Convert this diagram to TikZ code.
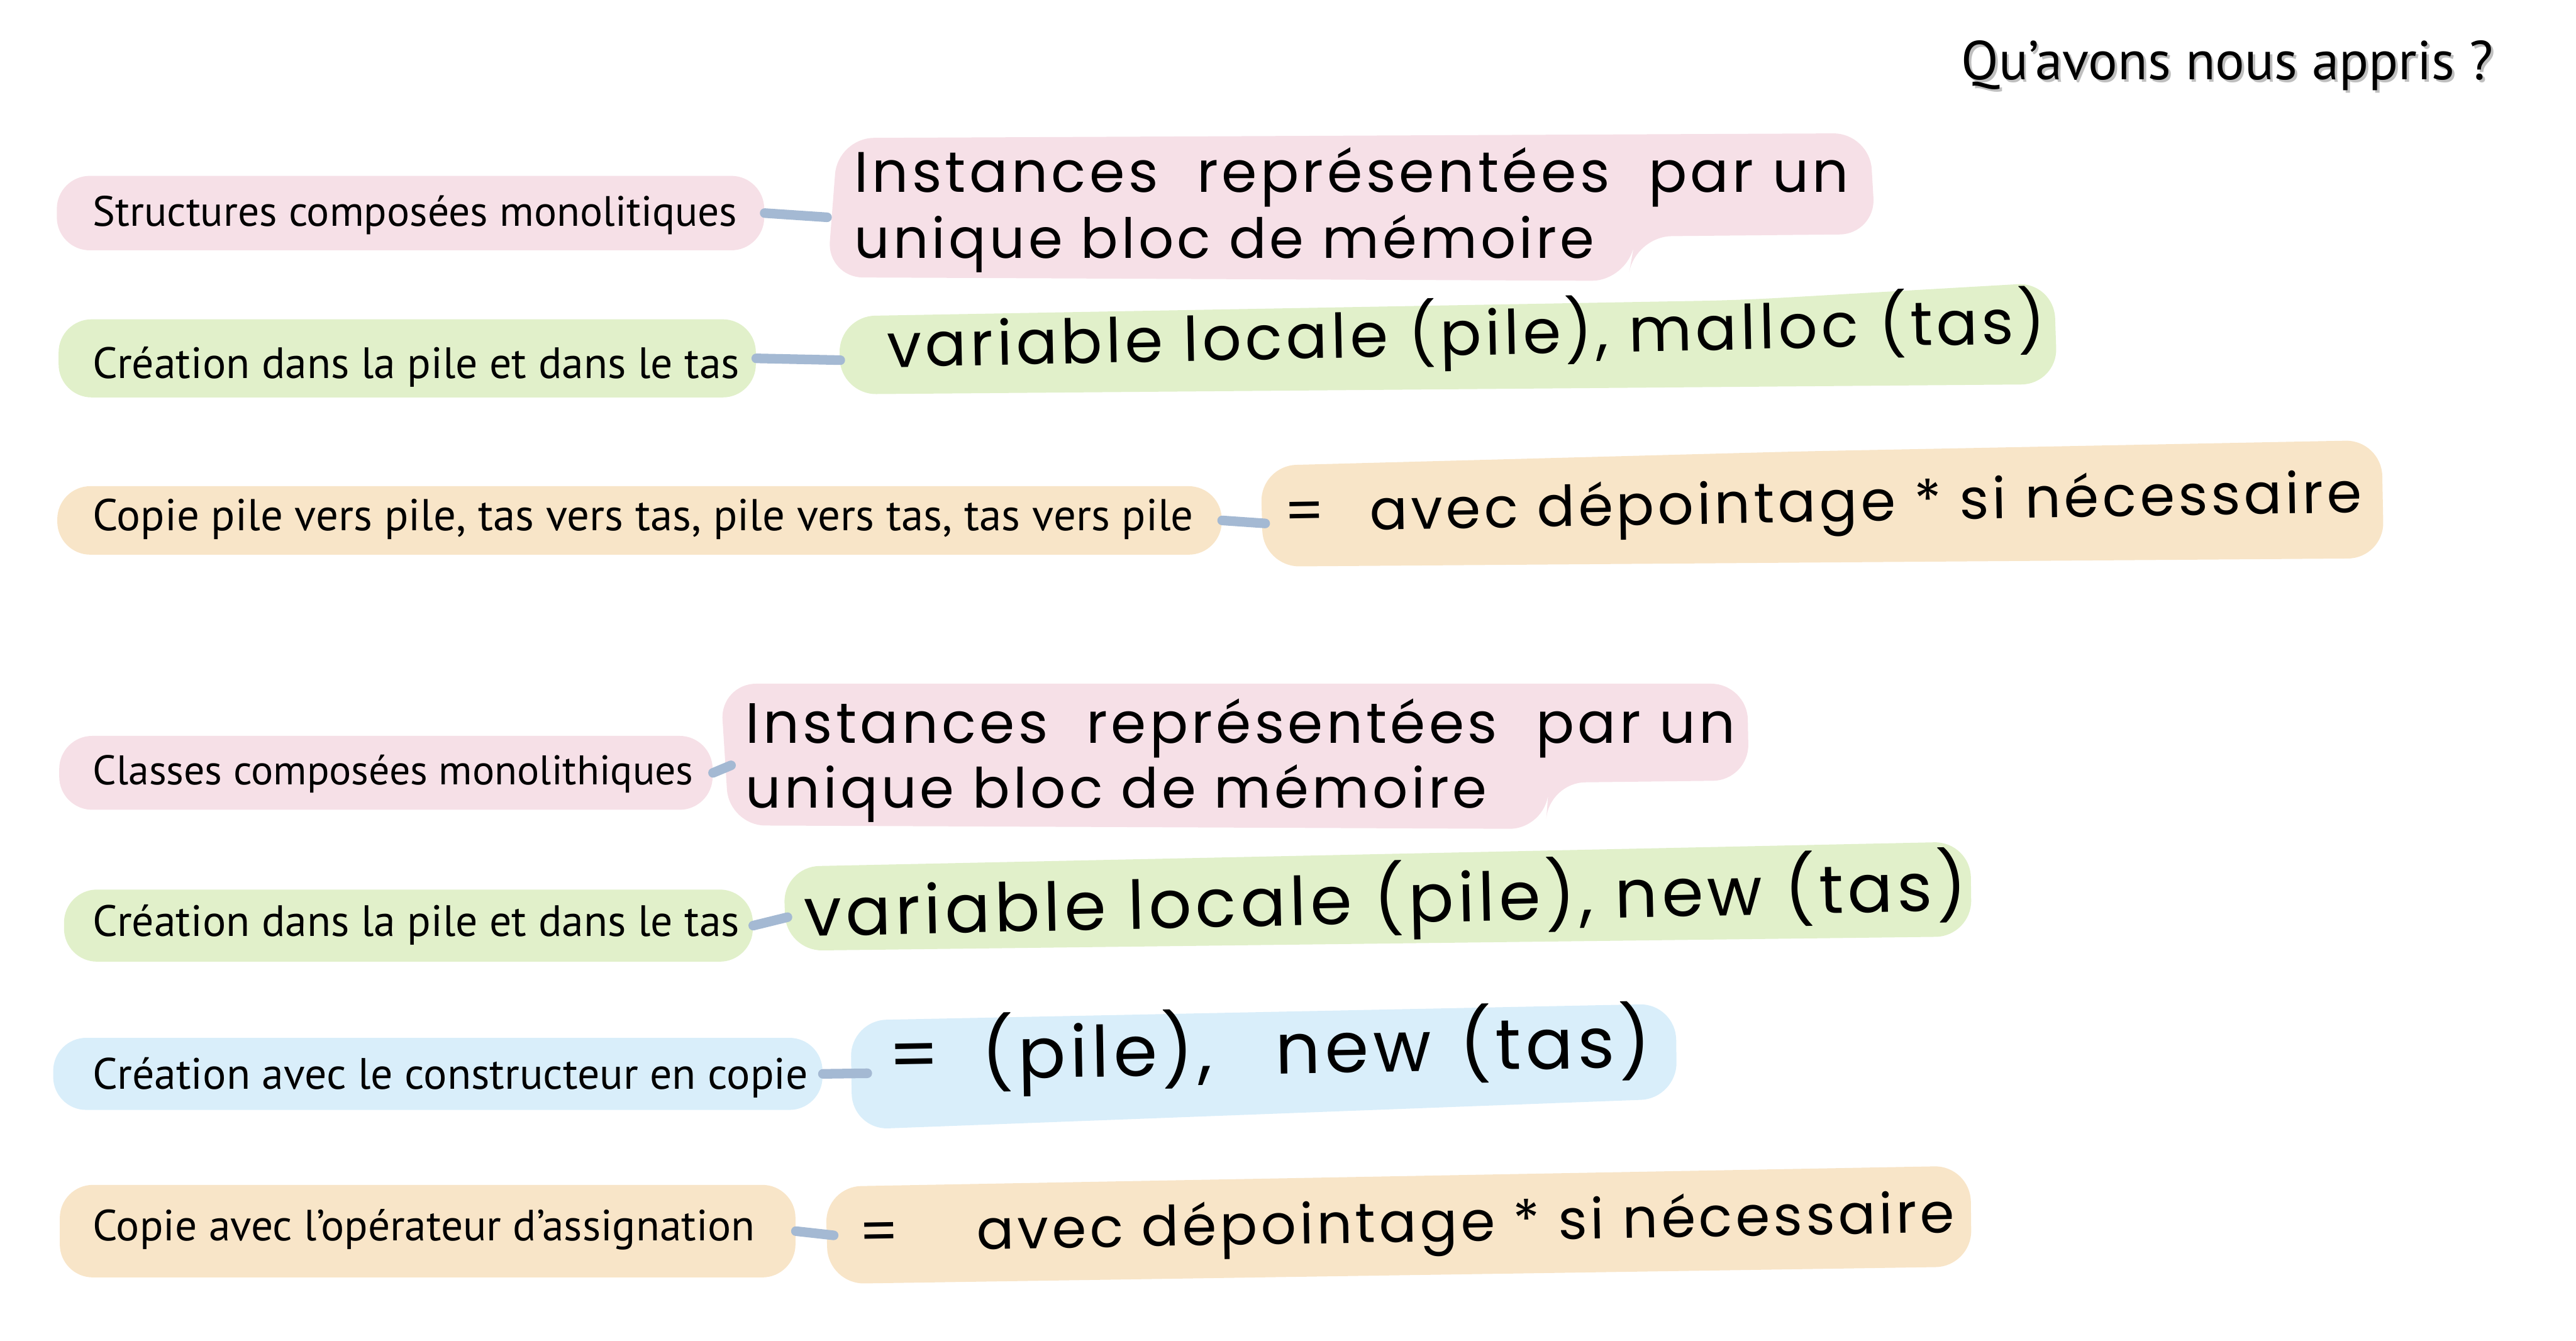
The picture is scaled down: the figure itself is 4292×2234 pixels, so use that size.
\documentclass[tikz,border=0pt]{standalone}
\usepackage{fontspec}
\setmainfont{PT Sans}
\newfontfamily\handfont[LetterSpace=6]{Poppins}
\usepackage{graphicx}
\definecolor{cpink}{HTML}{F6E0E7}
\definecolor{cgreen}{HTML}{E1F0CA}
\definecolor{corange}{HTML}{F8E5C8}
\definecolor{cblue}{HTML}{D9EEFA}
\definecolor{cconn}{HTML}{A4B9D3}
\newcommand{\fitw}[2]{\resizebox{#1}{!}{#2}}
\begin{document}
\begin{tikzpicture}[x=0.01cm,y=-0.01cm,
  lbox/.style={rounded corners=0.55cm, inner sep=0pt},
  lab/.style={anchor=base west, inner sep=0pt},
  hw/.style={anchor=base west, inner sep=0pt, font=\handfont},
  conn/.style={draw=cconn, line width=0.16cm, line cap=round},
  blob/.style={rounded corners=0.6cm}]
\useasboundingbox (0,0) rectangle (4292,2234);

% title
\node[lab, text=black!25] at (3271,137) {\fitw{8.86cm}{Qu’avons nous appris ?}};
\node[lab] (title) at (3267,133) {\fitw{8.86cm}{Qu’avons nous appris ?}};

% right blobs
\fill[cpink, blob] (1396,230) -- (3115,222) -- (3125,390) -- (2725,394) -- (2712,468) -- (1378,462) -- cycle;
\fill[cgreen, blob] (1398,527) -- (2900,500) -- (3422,470) -- (3428,640) -- (1400,657) -- cycle;
\fill[corange, blob] (2100,776) -- (3000,752) -- (3968,733) -- (3972,930) -- (2105,944) -- cycle;
\fill[cpink, blob] (1200,1139) -- (2911,1139) -- (2914,1300) -- (2581,1304) -- (2575,1381) -- (1215,1375) -- cycle;
\fill[cgreen, blob] (1305,1444) -- (3283,1402) -- (3285,1560) -- (1310,1584) -- cycle;
\fill[cblue, blob] (1417,1700) -- (2792,1672) -- (2794,1830) -- (1420,1882) -- cycle;
\fill[corange, blob] (1375,1977) -- (3283,1942) -- (3285,2110) -- (1380,2139) -- cycle;

% left boxes
\node[lbox, fill=cpink, minimum width=11.78cm, minimum height=1.24cm] (b1) at (684,355) {};
\node[lbox, fill=cgreen, minimum width=11.61cm, minimum height=1.30cm] (b2) at (678.5,597) {};
\node[lbox, fill=corange, minimum width=19.39cm, minimum height=1.14cm] (b3) at (1065.5,867) {};
\node[lbox, fill=cpink, minimum width=10.88cm, minimum height=1.23cm] (b4) at (643,1287.5) {};
\node[lbox, fill=cgreen, minimum width=11.47cm, minimum height=1.20cm] (b5) at (680.5,1542) {};
\node[lbox, fill=cblue, minimum width=12.81cm, minimum height=1.20cm] (b6) at (729.5,1789) {};
\node[lbox, fill=corange, minimum width=12.25cm, minimum height=1.54cm] (b7) at (712.5,2051) {};

% left labels
\node[lab] (t1) at (154,377) {\fitw{10.73cm}{Structures composées monolitiques}};
\node[lab] (t2) at (154,630) {\fitw{10.77cm}{Création dans la pile et dans le tas}};
\node[lab] (t3) at (154,884) {\fitw{18.33cm}{Copie pile vers pile, tas vers tas, pile vers tas, tas vers pile}};
\node[lab] (t4) at (154,1307) {\fitw{10.00cm}{Classes composées monolithiques}};
\node[lab] (t5) at (154,1560) {\fitw{10.77cm}{Création dans la pile et dans le tas}};
\node[lab] (t6) at (154,1814) {\fitw{11.91cm}{Création avec le constructeur en copie}};
\node[lab] (t7) at (154,2067) {\fitw{11.03cm}{Copie avec l’opérateur d’assignation}};

% connector ends
\coordinate (e1) at (1378,362);
\coordinate (e2) at (1400,600);
\coordinate (e3) at (2108,872);
\coordinate (e4) at (1218,1275);
\coordinate (e5) at (1312,1528);
\coordinate (e6) at (1445,1788);
\coordinate (e7) at (1389,2058);
\draw[conn] (b1.east) -- (e1);
\draw[conn] (b2.east) -- (e2);
\draw[conn] (b3.east) -- (e3);
\draw[conn] (b4.east) -- (e4);
\draw[conn] (b5.east) -- (e5);
\draw[conn] (b6.east) -- (e6);
\draw[conn] (b7.east) -- (e7);

% handwritten texts
\node[hw] (r1a) at (1423,320) {\fitw{16.56cm}{Instances\hspace{0.35em} représentées\hspace{0.35em} par un}};
\node[hw] (r1b) at (1423,430) {\fitw{12.32cm}{unique bloc de mémoire}};
\node[hw, rotate=1.2] (r2) at (1478,612) {\fitw{19.29cm}{variable locale (pile), malloc (tas)}};
\node[hw, rotate=1] (r3) at (2139,885) {\fitw{17.95cm}{=\hspace{0.8em}avec dépointage * si nécessaire}};
\node[hw] (r4a) at (1242,1238) {\fitw{16.48cm}{Instances\hspace{0.35em} représentées\hspace{0.35em} par un}};
\node[hw] (r4b) at (1242,1346) {\fitw{12.34cm}{unique bloc de mémoire}};
\node[hw, rotate=1.3] (r5) at (1340,1560) {\fitw{19.36cm}{variable locale (pile), new (tas)}};
\node[hw, rotate=1] (r6) at (1480,1800) {\fitw{12.70cm}{=\hspace{0.6em}(pile),\hspace{0.9em}new\hspace{0.4em}(tas)}};
\node[hw, rotate=1] (r7) at (1431,2085) {\fitw{18.24cm}{=\hspace{1.4em}avec dépointage * si nécessaire}};
\end{tikzpicture}
\end{document}
